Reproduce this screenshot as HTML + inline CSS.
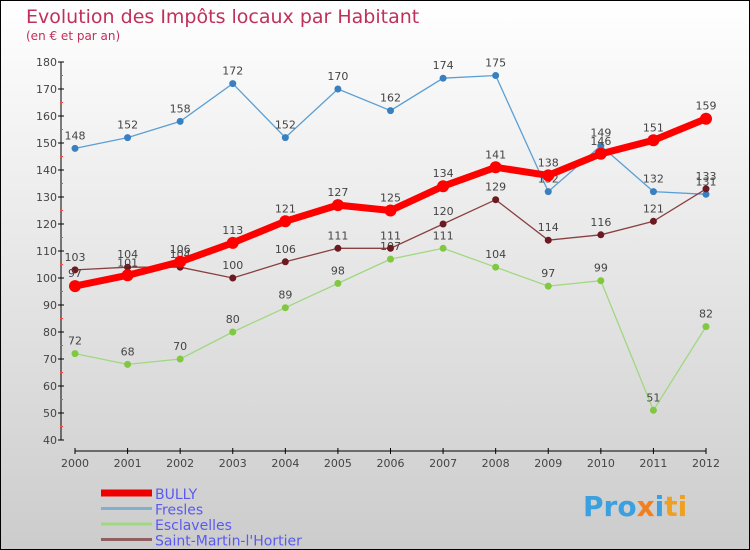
<!DOCTYPE html>
<html><head><meta charset="utf-8"><style>
body{margin:0}
#c{width:748px;height:548px;border:1px solid #000;background:linear-gradient(#fff,#ccc);position:relative;font-family:"DejaVu Sans","Liberation Sans",sans-serif}
</style></head><body>
<div id="c">
<svg id="s" width="748" height="548" style="position:absolute;left:0;top:0">
<text x="25" y="22" font-size="19" fill="#c0305a">Evolution des Impôts locaux par Habitant</text>
<text x="25" y="39" font-size="12" fill="#c0305a">(en € et par an)</text>
<g id="g"></g>
<text x="582" y="515" font-size="28" font-weight="bold" fill="#3aa0e0">Pro<tspan fill="#f08020">x</tspan><tspan fill="#3aa0e0">i</tspan><tspan fill="#f0a020">ti</tspan></text>
</svg>
</div>
<script>
const years=["2000","2001","2002","2003","2004","2005","2006","2007","2008","2009","2010","2011","2012"];
const yTicks=[40,50,60,70,80,90,100,110,120,130,140,150,160,170,180];
const bully=[97,101,106,113,121,127,125,134,141,138,146,151,159];
const fresles=[148,152,158,172,152,170,162,174,175,132,149,132,131];
const esclavelles=[72,68,70,80,89,98,107,111,104,97,99,51,82];
const stmartin=[103,104,104,100,106,111,111,120,129,114,116,121,133];
const names=["BULLY","Fresles","Esclavelles","Saint-Martin-l'Hortier"];
const NS="http://www.w3.org/2000/svg";
const g=document.getElementById('g');
const X=i=>74+i*(631/12);
const Y=v=>439-(v-40)*(378/140);
function mk(t,a,p){const e=document.createElementNS(NS,t);for(const k in a)e.setAttribute(k,a[k]);(p||g).appendChild(e);return e;}
let ax=mk('line',{x1:60,y1:Y(180),x2:60,y2:Y(40),stroke:'#000'});

yTicks.forEach((v,i)=>{mk('line',{x1:57,x2:63,y1:Y(v),y2:Y(v),stroke:'#000'});
 if(i<yTicks.length-1)mk('line',{x1:59,x2:62,y1:Y(v+5),y2:Y(v+5),stroke:'#f44'});
 const t=mk('text',{x:56,y:Y(v)+4,'font-size':11,'text-anchor':'end',fill:'#444'});t.textContent=v;
 });
let bx=mk('line',{x1:X(0),y1:450,x2:X(12),y2:450,stroke:'#000'});

years.forEach((y,i)=>{mk('line',{x1:X(i),x2:X(i),y1:447,y2:453,stroke:'#000'});
 const t=mk('text',{x:X(i),y:466,'font-size':11,'text-anchor':'middle',fill:'#444'});t.textContent=y;
 });
const series=[[fresles,'#5a9fd4',1.3,3.5,'#3a80c0','fresles'],[esclavelles,'#a0d880',1.3,3.5,'#80c840','esclavelles'],[stmartin,'#8a4040',1.3,3.5,'#6a1a20','saint-martin'],[bully,'#f00',7,6,'#f00','bully']];
series.forEach(([d,c,w,r,fc,n])=>{
 const l=mk('polyline',{points:d.map((v,i)=>X(i)+','+Y(v)).join(' '),fill:'none',stroke:c,'stroke-width':w});
 
 d.forEach((v,i)=>{const p=mk('circle',{cx:X(i),cy:Y(v),r:r,fill:fc});
  
  const t=mk('text',{x:X(i),y:Y(v)-9,'font-size':11,'text-anchor':'middle',fill:'#444'});t.textContent=v;
  });
});
const lc=[['#e00',7],['#80b0d0',3],['#a0d880',3],['#906060',3]];
names.forEach((nm,i)=>{const y=492+i*15.5;
 mk('line',{x1:100,x2:151,y1:y,y2:y,stroke:lc[i][0],'stroke-width':lc[i][1]});
 const t=mk('text',{x:154,y:y+6,'font-size':14,fill:'#5a5af0'});t.textContent=nm;
 });
</script>
</body></html>
